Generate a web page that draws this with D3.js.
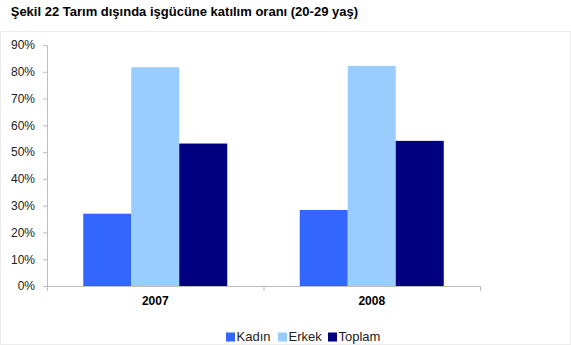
<!DOCTYPE html>
<html><head><meta charset="utf-8">
<script src="https://cdn.jsdelivr.net/npm/d3@7"></script>
<style>body{margin:0;background:#fff}svg{display:block}</style>
</head><body>
<script>
const title = "Şekil 22 Tarım dışında işgücüne katılım oranı (20-29 yaş)";
const categories = ["2007", "2008"];
const seriesNames = ["Kadın", "Erkek", "Toplam"];
const kadin = [27.0, 28.4];
const erkek = [81.7, 82.2];
const toplam = [53.2, 54.2];
const yTicks = [0,10,20,30,40,50,60,70,80,90];
const colors = ["#3366FF", "#99CCFF", "#000080"];

(function(){
const W = 571, H = 345;
const svg = d3.select("body").append("svg").attr("width", W).attr("height", H);
const font = "Liberation Sans, Arial, sans-serif";

svg.append("rect").attr("x", 0.5).attr("y", 31.5).attr("width", W - 1).attr("height", H - 32)
  .attr("fill", "none").attr("stroke", "#ececec");

svg.append("text").attr("x", 358).attr("y", 16).attr("text-anchor", "end")
  .attr("font-family", font).attr("font-weight", "bold").attr("font-size", 13).attr("fill", "#000")
  .text(title);

const pL = 47, pR = 480, pT = 45, pB = 286;
const y = d3.scaleLinear().domain([0, 90]).range([pB, pT]);
const x0 = d3.scaleBand().domain(categories).range([pL, pR]).paddingInner(0).paddingOuter(0);
const x1 = d3.scaleBand().domain(seriesNames).range([0, 144]);

const data = categories.map((c, i) => ({cat: c, vals: [kadin[i], erkek[i], toplam[i]]}));

const g = svg.append("g");
data.forEach(d => {
  const cx = x0(d.cat) + x0.bandwidth() / 2 - 72;
  d.vals.forEach((v, j) => {
    g.append("rect")
      .attr("x", cx + x1(seriesNames[j]))
      .attr("y", y(v))
      .attr("width", x1.bandwidth())
      .attr("height", y(0) - y(v))
      .attr("fill", colors[j]);
  });
});

const yAxis = svg.append("g").attr("transform", `translate(${pL},0)`)
  .call(d3.axisLeft(y).tickValues(yTicks).tickFormat(d => d + "%").tickSize(4).tickPadding(8));
yAxis.select(".domain").attr("stroke", "#bdbdbd");
yAxis.selectAll(".tick line").attr("stroke", "#bdbdbd");
yAxis.selectAll("text").attr("font-family", font).attr("font-size", 12).attr("fill", "#222");

const xAxis = svg.append("g").attr("transform", `translate(0,${pB})`)
  .call(d3.axisBottom(x0).tickSize(0).tickPadding(10));
xAxis.select(".domain").attr("stroke", "#bdbdbd");
xAxis.selectAll("text").attr("font-family", font).attr("font-size", 12).attr("font-weight", "bold").attr("fill", "#000");
[pL, x0("2008"), pR].forEach(px => {
  svg.append("line").attr("x1", px + 0.5).attr("x2", px + 0.5).attr("y1", pB).attr("y2", pB + 5).attr("stroke", "#bdbdbd");
});

const legendX = [226, 278, 328];
const leg = svg.append("g");
seriesNames.forEach((s, j) => {
  leg.append("rect").attr("x", legendX[j]).attr("y", 332.5).attr("width", 9).attr("height", 9).attr("fill", colors[j]);
  leg.append("text").attr("x", legendX[j] + 10.5).attr("y", 341)
    .attr("font-family", font).attr("font-size", 13).attr("fill", "#222").text(s);
});
})();
</script>
</body></html>
